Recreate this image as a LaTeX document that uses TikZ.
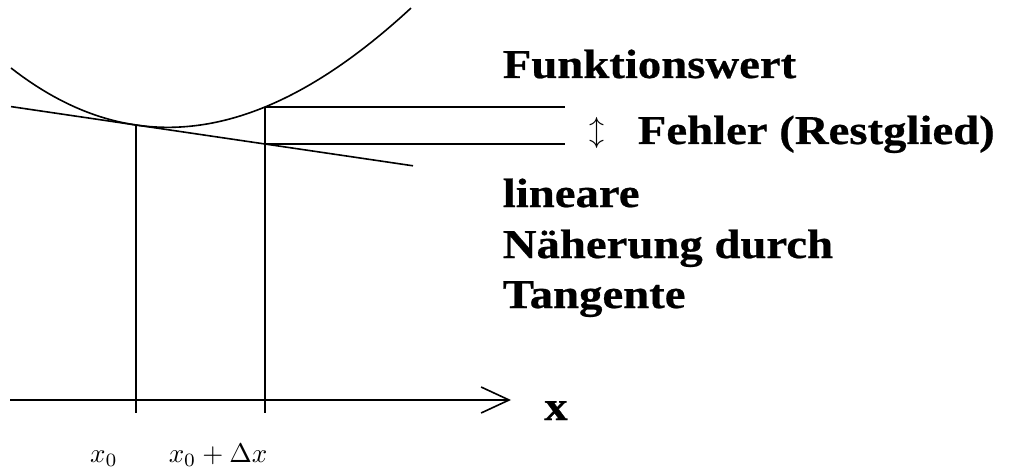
\documentclass[tikz,border=0pt]{standalone}
\usepackage[no-math]{fontspec}
\newfontfamily\labelfont{Liberation Serif}[FakeStretch=1.14,FakeBold=0.6]
\usetikzlibrary{arrows.meta}
\tikzset{
  lbl/.style={font={\labelfont\bfseries\fontsize{41}{50}\selectfont}, inner sep=0pt, anchor=base west},
  mlbl/.style={inner sep=0pt, anchor=base},
}
\newcommand{\mbig}[2][2.7]{\scalebox{#1}{$#2$}}
\begin{document}
\begin{tikzpicture}[x=1pt,y=-1pt,line width=1.6pt]
	\useasboundingbox (0,0) rectangle (1012,468);
	\coordinate (P) at (136,125);
	\coordinate (Q) at (265,107);
	\coordinate (T) at (265,144);
	\coordinate (Qe) at (565,107);
	\coordinate (Te) at (565,144);
	\coordinate (A) at (136,413);
	\coordinate (B) at (265,413);
	\coordinate (L) at (11,106.6);
	\coordinate (R) at (413,165.8);
	\coordinate (O) at (10,400);
	\coordinate (E) at (511,400);
	\draw plot[domain=-1.25:2.75,samples=80,smooth] ({136+100*\x},{125+14.73*\x-23.49*\x*\x+0.97*\x*\x*\x});
	\draw (L)--(R);
	\draw (P)--(A)  (Q)--(B);
	\draw (Q)--(Qe)  (T)--(Te);
	\draw[-{Straight Barb[length=28pt,width=26pt]}] (O)--(E);
	\node[lbl] (fw) at (502,78) {Funktionswert};
	\node[inner sep=0pt] (ud) at (597,133) {\mbig[3]{\updownarrow}};
	\node[lbl] (err) at (637,144) {Fehler (Restglied)};
	\node[lbl] (lin) at (502,207) {lineare};
	\node[lbl] (naeh) at (502,258) {Näherung durch};
	\node[lbl] (tang) at (502,308) {Tangente};
	\node[lbl, anchor=base] (xl) at (556,420) {x};
	\node[mlbl] (x0) at (104,462) {\mbig{x_0}};
	\node[mlbl] (x0dx) at (218,462) {\mbig{x_0+\Delta x}};
\end{tikzpicture}
\end{document}
